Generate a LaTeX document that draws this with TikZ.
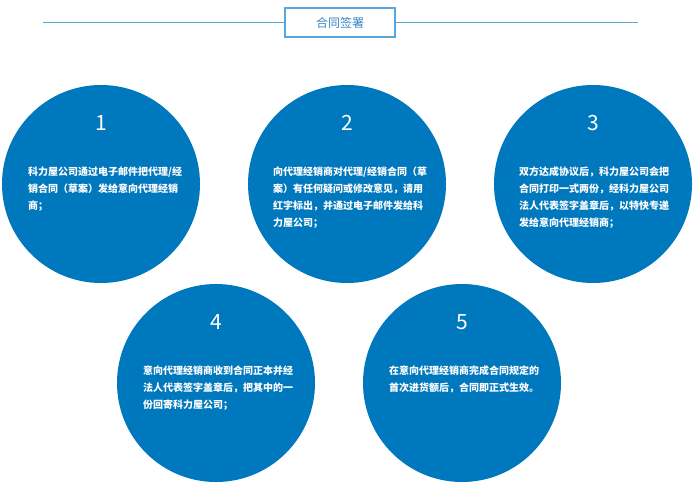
\documentclass[tikz,border=0pt]{standalone}
\usepackage{fontspec}
\usepackage{tikz}
\newfontfamily\cjk{Noto Sans CJK SC}
\definecolor{stepblue}{RGB}{0,120,190}
\definecolor{titleblue}{RGB}{84,166,220}
\definecolor{titletext}{RGB}{56,134,198}

\begin{document}
\begin{tikzpicture}[x=1pt, y=-1pt]
    \useasboundingbox (0, 0) rectangle (700, 492);

    % heading
    \node[draw=titleblue, line width=1.3pt, minimum width=110pt, minimum height=29pt,
          text=titletext, font=\cjk\fontsize{12}{14}\selectfont] (title) at (340, 22.5) {合同签署};
    \coordinate (TL) at (43, 22.5);
    \coordinate (TR) at (638, 22.5);
    \draw[titleblue, line width=1.3pt] (TL) -- (title.west);
    \draw[titleblue, line width=1.3pt] (title.east) -- (TR);

    \begin{scope}[every node/.style={circle, fill=stepblue, inner sep=0pt, minimum size=198pt}]
      \node (C1) at (101, 184) {};
      \node (C2) at (347, 184) {};
      \node (C3) at (593, 184) {};
      \node (C4) at (216, 383) {};
      \node (C5) at (462, 383) {};
    \end{scope}

    \begin{scope}[every node/.style={text=white, inner sep=0pt, font=\cjk\fontsize{21}{21}\selectfont}]
      \node (N1) at (101, 123) {1};
      \node (N2) at (347, 123) {2};
      \node (N3) at (593, 123) {3};
      \node (N4) at (216, 322) {4};
      \node (N5) at (462, 322) {5};
    \end{scope}

    \begin{scope}[every node/.style={text=white, inner sep=0pt, anchor=north west, align=left,
                  font=\cjk\bfseries\fontsize{10}{17}\selectfont}]
      \node (T1) at (28, 167) {科力屋公司通过电子邮件把代理/经\\销合同（草案）发给意向代理经销\\商；};
      \node (T2) at (273, 167) {向代理经销商对代理/经销合同（草\\案）有任何疑问或修改意见，请用\\红字标出，并通过电子邮件发给科\\力屋公司；};
      \node (T3) at (519, 167) {双方达成协议后，科力屋公司会把\\合同打印一式两份，经科力屋公司\\法人代表签字盖章后，以特快专递\\发给意向代理经销商；};
      \node (T4) at (143, 366) {意向代理经销商收到合同正本并经\\法人代表签字盖章后，把其中的一\\份回寄科力屋公司；};
      \node (T5) at (389, 366) {在意向代理经销商完成合同规定的\\首次进货额后，合同即正式生效。};
    \end{scope}

  \end{tikzpicture}
\end{document}
